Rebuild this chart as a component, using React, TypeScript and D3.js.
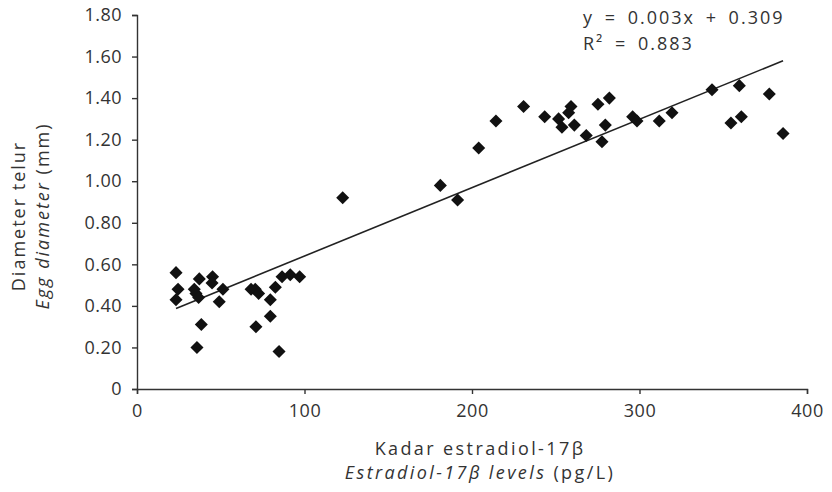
import React, { useRef, useEffect } from "react";
import * as d3 from "d3";

// Kadar estradiol-17β (pg/L) vs diameter telur (mm)
const estradiol = [
  23.3, 24.5, 23.3, 34.2, 35.2, 37.2, 36.8, 38.4, 35.8, 45.1, 44.8, 51.3, 49.1,
  68.1, 70.6, 72.6, 71.0, 79.6, 79.6, 82.6, 84.8, 86.6, 91.5, 97.1, 122.8,
  181.1, 191.4, 204.0, 214.3, 230.8, 243.4, 251.7, 253.7, 259.1, 257.7, 261.1,
  268.2, 275.2, 282.0, 279.6, 277.6, 295.9, 298.5, 311.8, 319.4, 343.3, 359.6,
  354.6, 360.8, 377.5, 385.7
];
const diameter = [
  0.56, 0.48, 0.43, 0.48, 0.46, 0.53, 0.44, 0.31, 0.2, 0.54, 0.51, 0.48, 0.42,
  0.48, 0.48, 0.46, 0.3, 0.43, 0.35, 0.49, 0.18, 0.54, 0.55, 0.54, 0.92,
  0.98, 0.91, 1.16, 1.29, 1.36, 1.31, 1.3, 1.26, 1.36, 1.33, 1.27,
  1.22, 1.37, 1.4, 1.27, 1.19, 1.31, 1.29, 1.29, 1.33, 1.44, 1.46,
  1.28, 1.31, 1.42, 1.23
];
const xTicks = [0, 100, 200, 300, 400];
const yTicks = [0, 0.2, 0.4, 0.6, 0.8, 1.0, 1.2, 1.4, 1.6, 1.8];

// trend line as drawn
const slope = 0.00329;
const intercept = 0.311;
const equationLines = ["y = 0.003x + 0.309", "R\u00b2 = 0.883"];

const font = "'Open Sans', sans-serif";

const App = () => {
  const xAxisRef = useRef<SVGGElement>(null);
  const yAxisRef = useRef<SVGGElement>(null);

  const x = d3.scaleLinear().domain([0, 400]).range([137, 807]);
  const y = d3.scaleLinear().domain([0, 1.8]).range([389, 15]);

  useEffect(() => {
    const xAxis = d3.axisBottom(x).tickValues(xTicks).tickSize(5).tickPadding(10);
    const yAxis = d3
      .axisLeft(y)
      .tickValues(yTicks)
      .tickSize(5)
      .tickPadding(10)
      .tickFormat(d => (d === 0 ? "0" : d3.format(".2f")(d as number)));

    [
      [xAxisRef.current, xAxis],
      [yAxisRef.current, yAxis]
    ].forEach(([node, axis]: any) => {
      const g = d3.select(node);
      g.call(axis);
      g.select(".domain").attr("stroke", "#333").attr("stroke-width", 1.4);
      g.selectAll(".tick line").attr("stroke", "#333").attr("stroke-width", 1.4);
      g.selectAll(".tick text")
        .attr("fill", "#333")
        .style("font-family", font)
        .style("font-size", "18px")
        .style("letter-spacing", "0.5px");
    });
  }, []);

  const xs = d3.extent(estradiol) as [number, number];
  const trend = d3
    .line<number>()
    .x(d => x(d))
    .y(d => y(slope * d + intercept));

  const diamond = d3.symbol().type(d3.symbolSquare).size(85)();

  return (
    <svg width={832} height={492} style={{ display: "block", margin: -8 }}>
      <g ref={xAxisRef} transform={`translate(0,${y(0)})`} />
      <g ref={yAxisRef} transform={`translate(${x(0)},0)`} />

      <path d={trend(xs) || ""} fill="none" stroke="#222" strokeWidth={1.6} />

      {estradiol.map((v, i) => (
        <path
          key={i}
          d={diamond || ""}
          fill="#111"
          transform={`translate(${x(v)},${y(diameter[i])}) rotate(45)`}
        />
      ))}

      <g fill="#333" style={{ fontFamily: font, fontSize: 18, letterSpacing: 2 }}>
        {equationLines.map((t, i) => (
          <text key={t} x={583} y={24 + i * 26} style={{ wordSpacing: 4 }}>
            {t}
          </text>
        ))}

        <g style={{ letterSpacing: 2.4 }}>
          <text x={480} y={455} textAnchor="middle">
            Kadar estradiol-17β
          </text>
          <text x={480} y={479} textAnchor="middle">
            <tspan fontStyle="italic">Estradiol-17β levels</tspan> (pg/L)
          </text>
        </g>

        <g transform="translate(25,216) rotate(-90)">
          <text x={0} y={0} textAnchor="middle">
            Diameter telur
          </text>
          <text x={0} y={24} textAnchor="middle">
            <tspan fontStyle="italic">Egg diameter</tspan> (mm)
          </text>
        </g>
      </g>
    </svg>
  );
};

export default App;
